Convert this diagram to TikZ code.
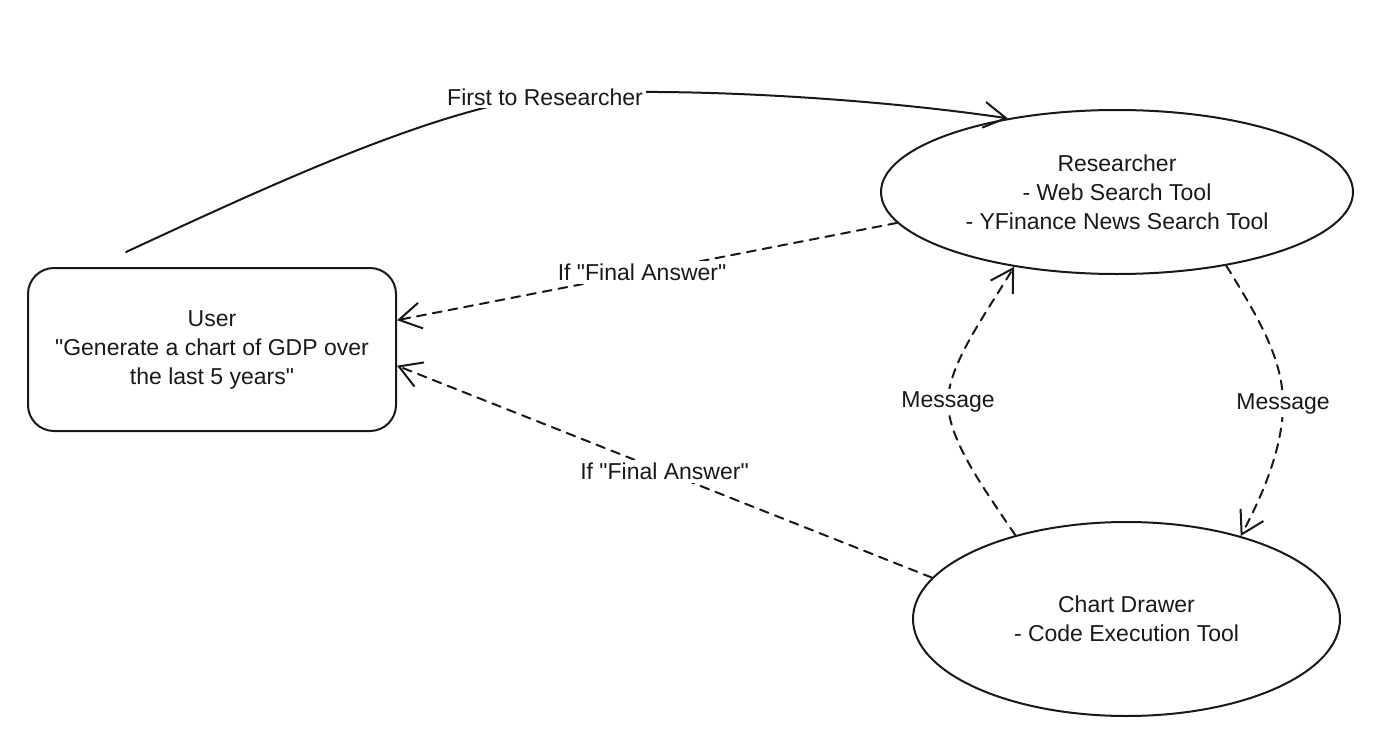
\documentclass[tikz,border=0pt]{standalone}
\usepackage{fontspec}
\setmainfont{Liberation Sans}[Ligatures=TeXOff]
\usetikzlibrary{arrows.meta,shapes.geometric}
\begin{document}
\begin{tikzpicture}[x=1pt,y=-1pt,
  every node/.style={font=\fontsize{23}{29}\selectfont, text=black!90},
  shapeline/.style={draw=black!90, line width=2pt, align=center, inner sep=0pt},
  conn/.style={line width=2pt, draw=black!90, line cap=round,
    -{Straight Barb[length=22pt,width=26pt,line width=2pt]}},
  dashconn/.style={conn, dash pattern=on 9pt off 7pt},
  lab/.style={fill=white, inner sep=3pt}
]
\useasboundingbox (0,0) rectangle (1390,752);

\node[shapeline, rounded corners=26pt, minimum width=368pt, minimum height=163pt] (user) at (212,349.5)
  {User\\"Generate a chart of GDP over\\the last 5 years"};
\node[shapeline, ellipse, minimum width=472pt, minimum height=164pt] (res) at (1117,192)
  {Researcher\\- Web Search Tool\\- YFinance News Search Tool};
\node[shapeline, ellipse, minimum width=427pt, minimum height=194pt] (chart) at (1126.5,619)
  {Chart Drawer\\- Code Execution Tool};

\coordinate (u0) at (126,252);
\coordinate (p1) at (545,96);
\coordinate (m1) at (948,402);
\coordinate (m2) at (1283,404);

\draw[conn] (u0) .. controls (260,190) and (430,110) .. (p1) .. controls (640,86) and (850,95) .. (res.146);
\node[lab] (l1) at (545,97) {First to Researcher};

\draw[dashconn] (res.188) -- node[lab, pos=0.51] (l2) {If "Final Answer"} (user.9);
\draw[dashconn] (chart.168) -- node[lab, pos=0.5] (l3) {If "Final Answer"} (user.355.5);

\draw[dashconn] (chart.143) .. controls (985,490) and (948,440) .. (m1) .. controls (948,365) and (985,315) .. (res.216);
\node[lab] (l4) at (m1) {Message};

\draw[dashconn] (res.326) .. controls (1260,320) and (1283,360) .. (m2) .. controls (1283,450) and (1260,500) .. (chart.36);
\node[lab] (l5) at (m2) {Message};
\end{tikzpicture}
\end{document}
